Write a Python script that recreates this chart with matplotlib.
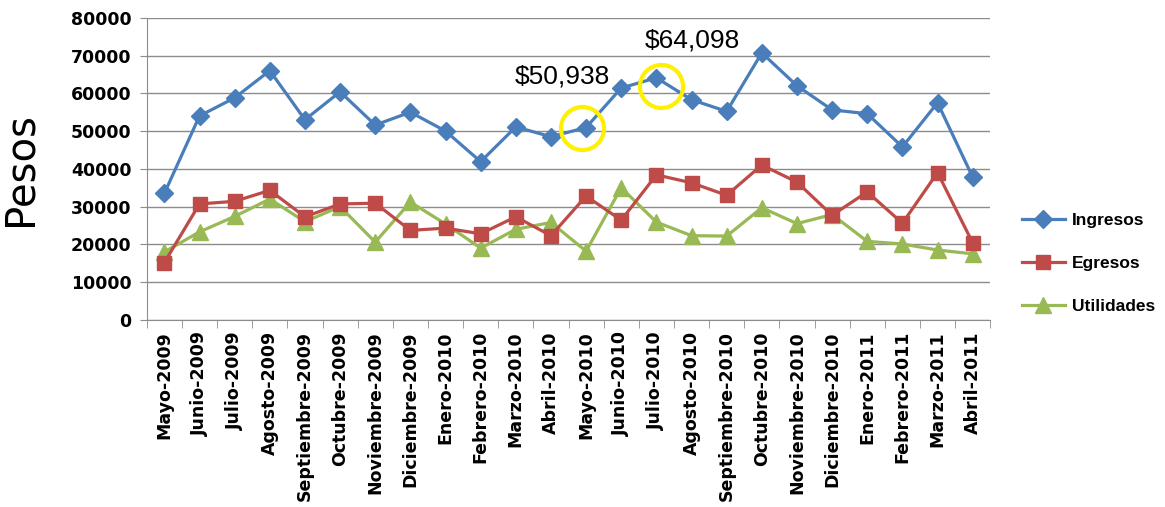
import matplotlib
matplotlib.use("Agg")
import matplotlib.pyplot as plt
import matplotlib.transforms as mtransforms
import numpy as np

# --- datos ---
meses = ["Mayo-2009", "Junio-2009", "Julio-2009", "Agosto-2009", "Septiembre-2009",
         "Octubre-2009", "Noviembre-2009", "Diciembre-2009", "Enero-2010", "Febrero-2010",
         "Marzo-2010", "Abril-2010", "Mayo-2010", "Junio-2010", "Julio-2010",
         "Agosto-2010", "Septiembre-2010", "Octubre-2010", "Noviembre-2010",
         "Diciembre-2010", "Enero-2011", "Febrero-2011", "Marzo-2011", "Abril-2011"]

ingresos = [33500, 54000, 58800, 66000, 53000, 60400, 51600, 55000, 50000, 41900,
            51100, 48500, 50938, 61400, 64098, 58300, 55200, 70700, 62000, 55600,
            54600, 45800, 57500, 37800]
egresos = [15200, 30700, 31400, 34300, 27300, 30700, 30900, 23700, 24300, 22800,
           27300, 22300, 32800, 26400, 38400, 36300, 33000, 41000, 36500, 27700,
           33900, 25600, 39000, 20400]
utilidades = [18000, 23300, 27400, 32000, 26000, 30000, 20600, 31200, 25400, 19000,
              24000, 25800, 18200, 35000, 25900, 22300, 22200, 29700, 25500, 27900,
              20800, 20100, 18500, 17500]

destacados = [12, 14]  # Mayo-2010, Julio-2010
etiquetas_dest = ["$50,938", "$64,098"]

azul, rojo, verde = "#4A7EBB", "#BE4B48", "#98B954"

fig = plt.figure(figsize=(11.65, 5.07), dpi=100)
ax = fig.add_axes([0.126, 0.369, 0.724, 0.596])

x = np.arange(len(meses))
ax.plot(x, ingresos, color=azul, lw=2.3, marker="D", ms=9, label="Ingresos", zorder=5)
ax.plot(x, egresos, color=rojo, lw=2.3, marker="s", ms=10, label="Egresos", zorder=4)
ax.plot(x, utilidades, color=verde, lw=2.3, marker="^", ms=11, label="Utilidades", zorder=3)

# circulos amarillos (ligeramente desplazados), offsets en pixeles
circ_off = [(-4, 0), (5, -8)]
txt_off = [(-24, 51), (36, 37)]
for i, (dx, dy), (tx, ty), lab in zip(destacados, circ_off, txt_off, etiquetas_dest):
    tr = ax.transData + mtransforms.ScaledTranslation(dx / 100, dy / 100, fig.dpi_scale_trans)
    ax.plot(x[i], ingresos[i], marker="o", ms=31, mfc="none", mec="#FFEF00", mew=3,
            transform=tr, zorder=6, clip_on=False)
    ax.annotate(lab, (x[i], ingresos[i]), xytext=(tx, ty), textcoords="offset pixels",
                ha="center", va="center", fontsize=19, family="Liberation Sans")

ax.set_xlim(-0.5, len(meses) - 0.5)
ax.set_ylim(0, 80000)
ax.set_yticks(np.arange(0, 80001, 10000))
ax.set_yticklabels([str(v) for v in range(0, 80001, 10000)], fontweight="bold", fontsize=12.5)
ax.yaxis.grid(True, color="#8C8C8C", lw=1)
ax.set_axisbelow(True)

ax.set_xticks(x)
ax.set_xticklabels(meses, rotation=90, fontsize=12.5, fontweight="bold")
ax.set_xticks(np.arange(-0.5, len(meses)), minor=True)
ax.tick_params(axis="x", which="major", length=0, pad=8)
ax.tick_params(axis="x", which="minor", length=6, color="#8C8C8C", direction="out")
ax.tick_params(axis="y", length=5, color="#8C8C8C", pad=6)

for s in ["top", "right"]:
    ax.spines[s].set_visible(False)
for s in ["left", "bottom"]:
    ax.spines[s].set_color("#8C8C8C")

ax.set_ylabel("Pesos", fontsize=29, labelpad=22)

fig.legend(loc="center left", bbox_to_anchor=(0.8635, 0.481), frameon=False,
           prop={"family": "Liberation Sans", "weight": "bold", "size": 12.5},
           labelspacing=1.6, handlelength=2.5, handletextpad=0.4)

fig.savefig("out.png", dpi=100)
